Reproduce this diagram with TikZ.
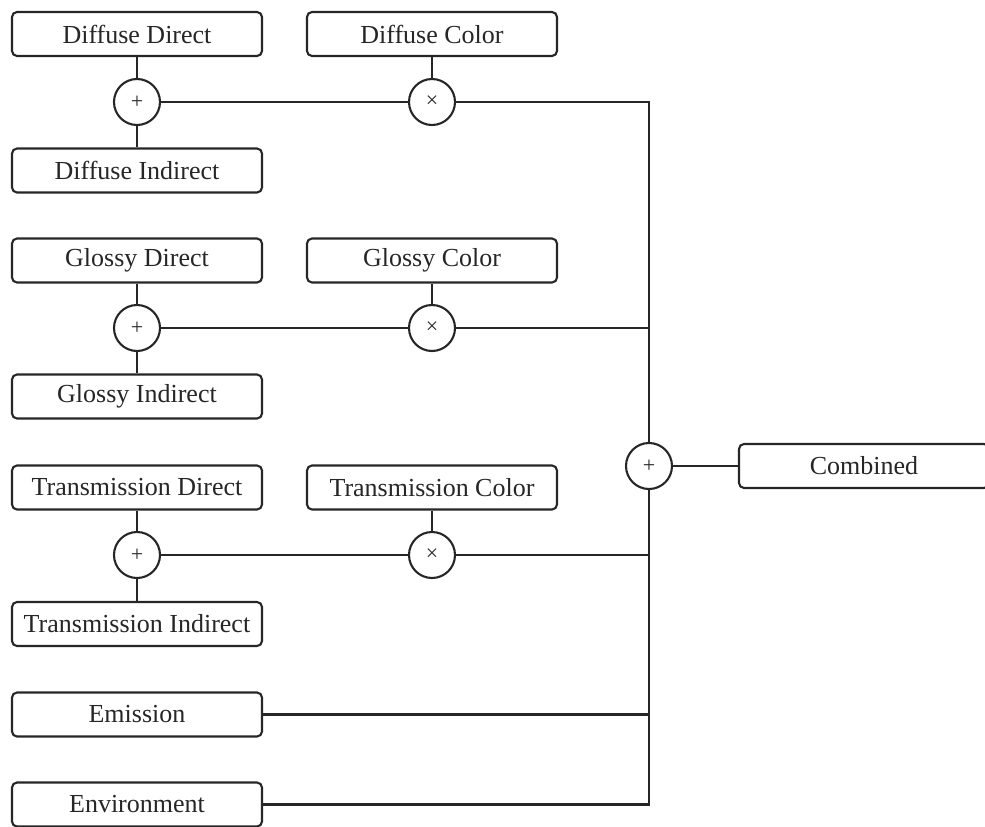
\documentclass[tikz,border=0pt]{standalone}
\usepackage{fontspec}
\setmainfont{Liberation Serif}
\definecolor{ink}{HTML}{262626}
\begin{document}
\begin{tikzpicture}[x=1pt,y=-1pt,
  box/.style={draw=ink,line width=2.1pt,rounded corners=5pt,minimum width=250pt,
    minimum height=44pt,inner sep=0pt,text=ink,font=\fontsize{26}{30}\selectfont},
  op/.style={draw=ink,line width=2.1pt,circle,minimum size=46pt,inner sep=0pt,
    text=ink,font=\fontsize{22}{24}\selectfont},
  wire/.style={draw=ink,line width=2.1pt}]
\useasboundingbox (0,0) rectangle (985,827);

% diffuse branch
\node[box] (dd) at (137,34) {Diffuse Direct};
\node[box] (di) at (137,170.5) {Diffuse Indirect};
\node[box] (dc) at (432,34) {Diffuse Color};
\node[op]  (dp) at (137,102) {+};
\node[op]  (dm) at (432,102) {×};

% glossy branch
\node[box] (gd) at (137,260.5) {Glossy Direct};
\node[box] (gi) at (137,396.5) {Glossy Indirect};
\node[box] (gc) at (432,260.5) {Glossy Color};
\node[op]  (gp) at (137,328) {+};
\node[op]  (gm) at (432,328) {×};

% transmission branch
\node[box] (td) at (137,487.5) {Transmission Direct};
\node[box] (ti) at (137,624) {Transmission Indirect};
\node[box] (tc) at (432,487.5) {Transmission Color};
\node[op]  (tp) at (137,555) {+};
\node[op]  (tm) at (432,555) {×};

% extra terms
\node[box] (em) at (137,714.5) {Emission};
\node[box] (en) at (137,804.5) {Environment};

% final sum
\node[op]  (sum) at (649,466) {+};
\node[box] (cb) at (864,466) {Combined};

% branch wiring
\foreach \a/\b/\c/\p/\m in {dd/di/dc/dp/dm, gd/gi/gc/gp/gm, td/ti/tc/tp/tm}{
  \path[wire] (\a.south) -- (\p.north);
  \path[wire] (\p.south) -- (\b.north);
  \path[wire] (\p.east) -- (\m.west);
  \path[wire] (\c.south) -- (\m.north);
}

% collecting bus
\path[wire] (dm.east) -| (sum.north);
\path[wire] (gm.east) -- (gm.east -| sum.north);
\path[wire] (tm.east) -- (tm.east -| sum.south);
\path[wire] (em.east) -- (em.east -| sum.south);
\path[wire] (en.east) -| (sum.south);
\path[wire] (sum.east) -- (cb.west);
\end{tikzpicture}
\end{document}
